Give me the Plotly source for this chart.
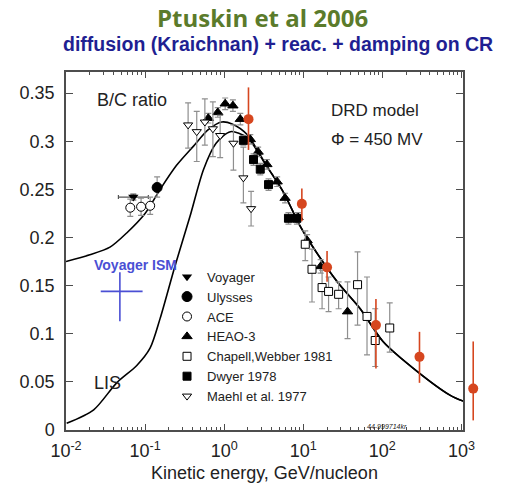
import plotly.graph_objects as go

# ---------------- data ----------------
# model curves (E in GeV/nucleon, B/C)
mod_E = [0.01, 0.02, 0.036, 0.059, 0.1, 0.155, 0.25, 0.41, 0.63, 0.93, 1.26, 1.95, 3.47, 5.62, 9.1, 11.5, 26.9, 52.5, 102, 275, 724, 1050]
mod_R = [0.175, 0.182, 0.190, 0.205, 0.225, 0.250, 0.275, 0.295, 0.312, 0.320, 0.318, 0.307, 0.274, 0.247, 0.212, 0.198, 0.154, 0.126, 0.092, 0.061, 0.036, 0.030]

lis_E = [0.0102, 0.0224, 0.0437, 0.0785, 0.1156, 0.155, 0.24, 0.37, 0.55, 0.79, 1.2, 1.95, 3.16, 5.62, 9.1, 11.5, 26.9, 52.5, 102, 275, 724, 1050]
lis_R = [0.007, 0.021, 0.049, 0.067, 0.085, 0.116, 0.171, 0.222, 0.271, 0.298, 0.310, 0.304, 0.279, 0.247, 0.212, 0.198, 0.154, 0.126, 0.092, 0.061, 0.036, 0.030]

# Voyager
voy_E = [0.071]
voy_R = [0.242]
voy_Elo = [0.046]
voy_Ehi = [0.110]

# Ulysses
uly_E = [0.142]
uly_R = [0.252]
uly_hi = [0.263]
uly_lo = [0.242]

# ACE
ace_E = [0.065, 0.089, 0.116]
ace_R = [0.231, 0.232, 0.233]
ace_hi = [0.240, 0.241, 0.242]
ace_lo = [0.222, 0.223, 0.224]

# HEAO-3
heao_E = [0.63, 0.83, 1.03, 1.29, 1.60, 2.14, 2.69, 3.47, 4.68, 5.89, 8.6, 11.2, 16.6, 36.3]
heao_R = [0.324, 0.330, 0.339, 0.337, 0.323, 0.302, 0.289, 0.276, 0.258, 0.241, 0.221, 0.197, 0.170, 0.123]
heao_hi = [0.329, 0.335, 0.345, 0.343, 0.329, 0.307, 0.294, 0.281, 0.263, 0.246, 0.226, 0.203, 0.177, 0.154]
heao_lo = [0.319, 0.325, 0.333, 0.331, 0.317, 0.297, 0.284, 0.271, 0.253, 0.236, 0.216, 0.191, 0.163, 0.095]

# Chapell, Webber 1981
chw_E = [10.6, 12.9, 17.3, 20.9, 28.0, 48.6, 64.0, 81.3, 124]
chw_R = [0.193, 0.167, 0.148, 0.144, 0.141, 0.151, 0.118, 0.093, 0.106]
chw_hi = [0.207, 0.188, 0.166, 0.159, 0.154, 0.185, 0.159, 0.126, 0.132]
chw_lo = [0.176, 0.133, 0.126, 0.123, 0.126, 0.109, 0.078, 0.066, 0.081]

# Dwyer 1978
dwy_E = [1.75, 2.35, 2.86, 3.64, 6.5, 8.3]
dwy_R = [0.301, 0.281, 0.271, 0.255, 0.220, 0.220]
dwy_hi = [0.306, 0.287, 0.277, 0.261, 0.226, 0.226]
dwy_lo = [0.296, 0.275, 0.265, 0.249, 0.214, 0.214]

# Maehl et al. 1977
mae_E = [0.35, 0.45, 0.57, 0.72, 0.89, 1.31, 1.75, 2.19]
mae_R = [0.317, 0.310, 0.320, 0.313, 0.306, 0.298, 0.262, 0.230]
mae_hi = [0.340, 0.331, 0.344, 0.341, 0.327, 0.317, 0.294, 0.248]
mae_lo = [0.293, 0.279, 0.296, 0.284, 0.283, 0.270, 0.236, 0.212]

# newer data (red)
red_E = [2.03, 9.6, 20.0, 83.0, 295, 1410]
red_R = [0.323, 0.235, 0.169, 0.109, 0.076, 0.043]
red_hi = [0.356, 0.251, 0.186, 0.136, 0.102, 0.092]
red_lo = [0.291, 0.217, 0.154, 0.064, 0.049, 0.010]

# Voyager ISM
ism_E = [0.048]
ism_R = [0.144]
ism_Elo = [0.0275]
ism_Ehi = [0.093]
ism_hi = [0.164]
ism_lo = [0.113]

x_tickvals = [0.01, 0.1, 1, 10, 100, 1000]
x_ticktext = ["10<sup>-2</sup>", "10<sup>-1</sup>", "10<sup>0</sup>", "10<sup>1</sup>", "10<sup>2</sup>", "10<sup>3</sup>"]

# ---------------- figure ----------------
FONT = "Liberation Sans, Arial, sans-serif"
GRAY = "#8f8f8f"
RED = "#d6461f"
BLUE = "#4a4fd4"
AX = "#4d4d4d"

# main frame spans 66..463 px; an overlay x-axis spans 66..475 px with the same scale
X_LO, X_HI = -2.0, 3.02
Y_RANGE = [0, 0.372]
DOM = 397 / 409
X2_HI = X_LO + (X_HI - X_LO) / DOM


def up(hi, v):
    return [h - a for h, a in zip(hi, v)]


def dn(lo, v):
    return [a - l for l, a in zip(lo, v)]


fig = go.Figure()

# curves
fig.add_trace(go.Scatter(x=mod_E, y=mod_R, mode="lines", line=dict(color="black", width=1.6, shape="spline", smoothing=0.8),
                         showlegend=False, hoverinfo="skip"))
fig.add_trace(go.Scatter(x=lis_E, y=lis_R, mode="lines", line=dict(color="black", width=1.6, shape="spline", smoothing=0.8),
                         showlegend=False, hoverinfo="skip"))

# Voyager ISM cross
fig.add_trace(go.Scatter(x=ism_E, y=ism_R, mode="markers", marker=dict(size=1, color=BLUE),
                         error_x=dict(type="data", symmetric=False, array=up(ism_Ehi, ism_E), arrayminus=dn(ism_Elo, ism_E),
                                      color=BLUE, thickness=1.6, width=0),
                         error_y=dict(type="data", symmetric=False, array=up(ism_hi, ism_R), arrayminus=dn(ism_lo, ism_R),
                                      color=BLUE, thickness=1.6, width=0),
                         showlegend=False))


def add_series(name, E, R, hi, lo, symbol, size, fill, line_w=1.0, bar_col=GRAY):
    fig.add_trace(go.Scatter(
        x=E, y=R, mode="markers", name=name,
        marker=dict(symbol=symbol, size=size, color=fill, line=dict(color="black", width=line_w)),
        error_y=dict(type="data", symmetric=False, array=up(hi, R), arrayminus=dn(lo, R),
                     color=bar_col, thickness=1.2, width=3),
    ))


# Voyager (horizontal bar)
fig.add_trace(go.Scatter(
    x=voy_E, y=voy_R, mode="markers", name="Voyager",
    marker=dict(symbol="triangle-down", size=9, color="black"),
    error_x=dict(type="data", symmetric=False, array=up(voy_Ehi, voy_E), arrayminus=dn(voy_Elo, voy_E),
                 color="#555555", thickness=1.2, width=2),
    error_y=dict(type="data", array=[0.003], color="#555555", thickness=1.2, width=3),
))
add_series("Ulysses", uly_E, uly_R, uly_hi, uly_lo, "circle", 10, "black")
add_series("ACE", ace_E, ace_R, ace_hi, ace_lo, "circle", 9, "white")
add_series("HEAO-3", heao_E, heao_R, heao_hi, heao_lo, "triangle-up", 9, "black")
add_series("Chapell,Webber 1981", chw_E, chw_R, chw_hi, chw_lo, "square", 8, "white")
add_series("Dwyer 1978", dwy_E, dwy_R, dwy_hi, dwy_lo, "square", 8, "black")
add_series("Maehl et al. 1977", mae_E, mae_R, mae_hi, mae_lo, "triangle-down", 8, "white")

# red points (on an overlay subplot so the last one may sit past the frame)
fig.add_trace(go.Scatter(
    x=red_E, y=red_R, mode="markers", showlegend=False, cliponaxis=False, xaxis="x2", yaxis="y2",
    marker=dict(symbol="circle", size=10, color=RED),
    error_y=dict(type="data", symmetric=False, array=up(red_hi, red_R), arrayminus=dn(red_lo, red_R),
                 color=RED, thickness=1.6, width=0),
))

axis_common = dict(showline=True, linecolor=AX, linewidth=1.5, mirror="allticks",
                   ticks="inside", tickcolor=AX, tickwidth=1.2, showgrid=False, zeroline=False,
                   tickfont=dict(family=FONT, size=18, color="#222222"))

fig.update_layout(
    width=525, height=492,
    margin=dict(l=66, r=50, t=72, b=59),
    paper_bgcolor="white", plot_bgcolor="rgba(0,0,0,0)",
    font=dict(family=FONT, size=16, color="#222222"),
    xaxis=dict(type="log", range=[X_LO, X_HI], domain=[0, DOM], tickmode="array", tickvals=x_tickvals, ticktext=x_ticktext,
               ticklen=6,
               minor=dict(tickmode="array",
                          tickvals=[m * 10 ** k for k in range(-2, 3) for m in range(2, 10)],
                          ticks="inside", ticklen=3, tickcolor=AX, tickwidth=1),
               title=dict(text="Kinetic energy, GeV/nucleon", font=dict(family=FONT, size=18, color="#222222"), standoff=6),
               ticklabelstandoff=4,
               **axis_common),
    xaxis2=dict(type="log", range=[X_LO, X2_HI], domain=[0, 1], anchor="y2", visible=False, showgrid=False),
    yaxis=dict(range=Y_RANGE, dtick=0.05, tick0=0, ticklen=7, ticklabelstandoff=6, anchor="x", **axis_common),
    yaxis2=dict(range=Y_RANGE, anchor="x2", visible=False, showgrid=False),
    legend=dict(x=0.247, y=0.47, xanchor="left", yanchor="top", bgcolor="rgba(0,0,0,0)",
                font=dict(family=FONT, size=13, color="#222222"), tracegroupgap=0),
    showlegend=True,
)

ann = [
    dict(text="<b>Ptuskin et al 2006</b>", xref="paper", yref="paper", x=(262 - 66) / 409, y=(433 - 17) / 361,
         xanchor="center", yanchor="middle", borderpad=0,
         font=dict(family="Open Sans, Lato, sans-serif", size=24, color="#5b7b2b")),
    dict(text="<b>diffusion (Kraichnan) + reac. + damping on CR</b>", xref="paper", yref="paper", x=(278 - 66) / 409,
         y=(433 - 44) / 361, xanchor="center", yanchor="middle", borderpad=0,
         font=dict(family=FONT, size=19.5, color="#1f1f92")),
    dict(text="B/C ratio", xref="x", yref="y", x=-1.633, y=0.343, xanchor="left", yanchor="middle",
         font=dict(family=FONT, size=18, color="#222222")),
    dict(text="DRD model", xref="x", yref="y", x=1.32, y=0.332, xanchor="left", yanchor="middle",
         font=dict(family=FONT, size=17, color="#222222")),
    dict(text="Φ = 450 MV", xref="x", yref="y", x=1.32, y=0.302, xanchor="left", yanchor="middle",
         font=dict(family=FONT, size=17, color="#222222")),
    dict(text="LIS", xref="x", yref="y", x=-1.67, y=0.049, xanchor="left", yanchor="middle",
         font=dict(family=FONT, size=18, color="#222222")),
    dict(text="<b>Voyager ISM</b>", xref="x", yref="y", x=-1.127, y=0.171, xanchor="center", yanchor="middle",
         font=dict(family=FONT, size=14, color=BLUE)),
    dict(text="<i>44-999714kr</i>", xref="x", yref="y", x=2.06, y=0.004, xanchor="center", yanchor="middle",
         font=dict(family=FONT, size=7, color="#222222")),
]
for a in ann:
    a["showarrow"] = False
    fig.add_annotation(**a)

fig.write_html("out.html")
